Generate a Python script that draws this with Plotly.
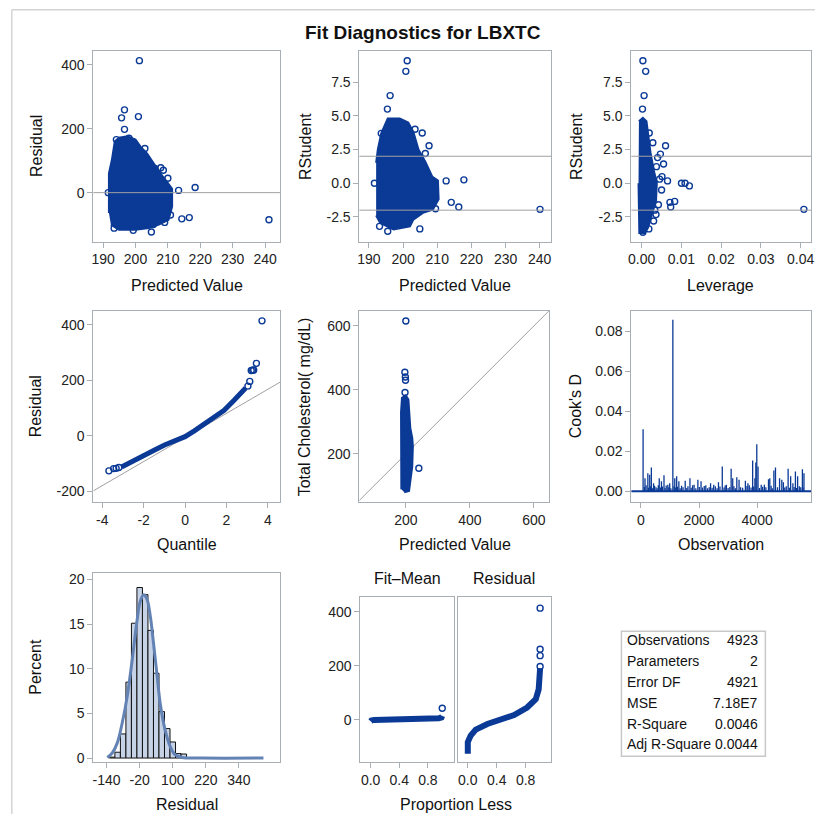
import plotly.graph_objects as go

# page is drawn inside an 8px body margin, so positions below are page pixels minus OFF
OFF = 8
W, H = 810, 810
BLUE = '#0B3A96'
GRAY = '#A8AFB4'
REF = '#A0A0A0'
FONT = 'Liberation Sans, Arial, sans-serif'

# --- Residual vs Predicted (dense core outline + single points)
p1_blob_x = [191.8, 191.8, 192.7, 193.6, 194.9, 197.5, 200.0, 201.6, 203.6, 205.6,
             207.7, 209.7, 211.3, 211.3, 210.2, 207.2, 204.1, 200.0, 194.9, 192.4]
p1_blob_y = [-64, 60, 102, 160, 172, 176, 166, 143, 122, 91,
             60, 34, 12, -44, -85, -100, -111, -116, -116, -100]
p1_pts_x = [201.2, 196.6, 195.7, 200.9, 196.6, 194.1, 202.9, 207.8, 210.0, 213.3, 218.4,
            214.3, 216.6, 241.2, 191.6, 204.9, 199.3, 193.4, 209.0, 203.0, 206.0, 210.8,
            198.0, 205.5, 208.6]
p1_pts_y = [413, 259, 234, 238, 198, 166, 138, 78, 45, 7, 16,
            -82, -78, -85, 0, -123, -118, -111, -93, 105, 76, -70,
            170, -100, 70]

# --- RStudent vs Predicted
p2_blob_x = [192.1, 192.6, 193.6, 195.5, 199.0, 201.5, 203.0, 204.5, 206.5, 208.5,
             210.2, 210.4, 208.7, 205.8, 203.0, 202.0, 197.2, 193.3, 192.1]
p2_blob_y = [1.5, 2.5, 3.7, 4.8, 4.8, 4.5, 3.8, 2.5, 1.6, 0.5,
             0.2, -1.2, -1.97, -2.2, -2.7, -3.2, -3.44, -2.95, -2.4]
p2_pts_x = [201.2, 200.8, 196.2, 195.4, 193.6, 191.6, 195.5, 193.1, 205.6, 207.6, 212.6,
            217.8, 214.1, 216.3, 240.1, 204.9, 203.5, 209.5, 206.5]
p2_pts_y = [9.09, 8.3, 6.5, 5.5, 3.7, 0.0, -3.56, -3.2, 3.73, 2.78, 0.17,
            0.25, -1.42, -1.77, -1.94, -3.39, 4.0, -1.9, 2.2]

# --- RStudent vs Leverage
p3_blob_x = [-0.0007, 0.0003, 0.0012, 0.0016, 0.0022, 0.0030, 0.0038, 0.0036,
             0.0025, 0.0016, 0.0008, -0.0006, -0.0008]
p3_blob_y = [4.6, 4.85, 4.6, 3.6, 2.3, 1.0, 0.0, -1.3, -2.4, -3.3, -3.7, -3.7, 0.0]
p3_pts_x = [0.0003, 0.0010, 0.0006, 0.0002, 0.0019, 0.0060, 0.0047, 0.0055, 0.0037, 0.0051,
            0.0065, 0.0100, 0.0109, 0.0120, 0.0071, 0.0083, 0.0073, 0.0408, 0.0036, 0.0018,
            0.0003, 0.0040, 0.0045, 0.0050, 0.0042, 0.0030, 0.0033, 0.0028]
p3_pts_y = [9.09, 8.3, 6.5, 5.5, 3.73, 2.78, 2.16, 1.43, 1.23, 0.49,
            0.17, 0.0, 0.0, -0.2, -1.42, -1.35, -1.77, -1.94, -2.33, -3.39,
            -3.64, 1.9, 0.3, -0.5, -1.6, -2.8, -2.0, 3.0]

# --- Q-Q plot of residuals
qq_x = [-3.07, -2.75, -2.43, -1.95, -1.47, -0.99, -0.51, 0.0, 0.45, 0.93,
        1.41, 1.89, 2.37, 2.69, 2.93]
qq_y = [-112, -99, -87, -69, -51, -33, -19, -3, 18, 41,
        64, 92, 128, 151, 172]
qq_tail_x = [-3.68, -3.45, -3.33, -3.2, 3.04, 3.13, 3.2, 3.27, 3.32, 3.45, 3.72]
qq_tail_y = [-126, -118, -117, -114, 179, 196, 235, 236, 237, 261, 414]
qq_ref_x = [-4.43, 4.59]
qq_ref_y = [-198, 193]

# --- Observed vs Predicted
p5_strip_x = [186, 185, 188, 200, 208, 210, 214, 220, 222, 220, 214, 210, 195]
p5_strip_y = [90, 330, 375, 383, 370, 330, 280, 250, 225, 160, 110, 84, 80]
p5_pts_x = [200.0, 197.0, 198.5, 199.0, 197.5, 240.6]
p5_pts_y = [615, 455, 440, 430, 392, 155]
diag = [50, 647]

# --- Cook's D
cook_obs = [76, 142, 240, 305, 360, 436, 632, 708, 795, 926, 991, 1100, 1166, 1231, 1307,
            1525, 1688, 1830, 1961, 2070, 2233, 2397, 2505, 2669, 2800, 2941, 3105, 3159,
            3300, 3377, 3595, 3682, 3845, 3922, 3954, 3987, 4030, 4139, 4248, 4390, 4434,
            4575, 4630, 4771, 4848, 4902, 5065, 5152, 5229, 5316, 5392, 5556, 5610,
            120, 180, 260, 330, 400, 470, 520, 560, 600, 680, 740, 830, 870, 960, 1030,
            1140, 1200, 1260, 1350, 1400, 1450, 1580, 1620, 1730, 1780, 1890, 2010, 2120,
            2180, 2290, 2350, 2450, 2560, 2620, 2720, 2860, 2900, 3000, 3060, 3200, 3250,
            3430, 3500, 3650, 3730, 3790, 3880, 4080, 4190, 4300, 4480, 4520, 4700, 4950,
            5000, 5110, 5270, 5350, 5450, 5500, 5580]
cook_d = [0.0311, 0.0066, 0.0091, 0.0083, 0.0119, 0.0041, 0.0066, 0.0050, 0.0080, 0.0033,
          0.0041, 0.0858, 0.0066, 0.0075, 0.0050, 0.0053, 0.0066, 0.0033, 0.0058, 0.0050,
          0.0030, 0.0041, 0.0033, 0.0045, 0.0124, 0.0033, 0.0113, 0.0066, 0.0070, 0.0058,
          0.0053, 0.0041, 0.0154, 0.0066, 0.0144, 0.0235, 0.0124, 0.0033, 0.0033, 0.0061,
          0.0066, 0.0104, 0.0119, 0.0066, 0.0058, 0.0046, 0.0113, 0.0075, 0.0041, 0.0099,
          0.0075, 0.0111, 0.0091,
          0.0022, 0.0030, 0.0018, 0.0025, 0.0015, 0.0028, 0.0020, 0.0016, 0.0031, 0.0019,
          0.0024, 0.0017, 0.0029, 0.0021, 0.0015, 0.0026, 0.0019, 0.0023, 0.0016, 0.0028,
          0.0020, 0.0017, 0.0025, 0.0018, 0.0030, 0.0016, 0.0022, 0.0019, 0.0027, 0.0015,
          0.0021, 0.0018, 0.0026, 0.0016, 0.0024, 0.0019, 0.0029, 0.0017, 0.0022, 0.0025,
          0.0016, 0.0020, 0.0018, 0.0027, 0.0031, 0.0019, 0.0024, 0.0017, 0.0023, 0.0020,
          0.0028, 0.0016, 0.0021, 0.0019, 0.0026, 0.0018, 0.0022, 0.0017, 0.0025, 0.0020,
          0.0019]

# --- Residual histogram
hist_mid = [-120, -100, -80, -60, -40, -20, 0, 20, 40, 60, 80, 100, 120, 140]
hist_pct = [0.1, 0.65, 2.7, 8.5, 15.1, 19.1, 18.3, 14.3, 9.5, 5.2, 3.3, 1.8, 0.5, 0.45]
curve_x = [-137.6, -119.6, -101.6, -83.6, -65.6, -47.6, -29.6, -17.6, -5.6, 6.4,
           18.4, 30.4, 42.5, 54.5, 72.5, 90.5, 108.5, 132.5, 204.5, 429]
curve_y = [0.07, 0.56, 1.67, 3.9, 6.85, 10.9, 15.4, 17.6, 18.3, 17.8,
           15.9, 12.8, 9.4, 6.1, 3.1, 1.3, 0.37, 0.07, 0.0, 0.0]

# --- Residual-Fit spread
fm_x = [0.0, 0.01, 0.05, 0.3, 0.69, 0.71, 0.95, 0.99, 1.0]
fm_y = [-6, -3, -1, 0, 1, 4, 5, 8, 14]
fm_pt_x = [1.0]
fm_pt_y = [42]
rs_x = [0.0, 0.0, 0.04, 0.11, 0.27, 0.46, 0.64, 0.82, 0.94, 0.98, 1.0, 1.0]
rs_y = [-126, -83, -59, -37, -16, -1, 17, 45, 76, 112, 161, 191]
rs_pt_x = [1.0, 1.0, 1.0, 1.0]
rs_pt_y = [197, 237, 261, 413]

stat_names = ['Observations', 'Parameters', 'Error DF', 'MSE', 'R-Square', 'Adj R-Square']
stat_vals = ['4923', '2', '4921', '7.18E7', '0.0046', '0.0044']


def dx(a, b):
    return [(a - OFF) / W, (b - OFF) / W]


def dy(top, bottom):
    return [1 - (bottom - OFF) / H, 1 - (top - OFF) / H]


def px(x):
    return (x - OFF) / W


def py(y):
    return 1 - (y - OFF) / H


def axis(dom, rng, tickvals, ticktext, anchor, show=True):
    return dict(domain=dom, range=rng, anchor=anchor, showline=True, mirror=True,
                linecolor=GRAY, linewidth=1, ticks='outside' if show else '',
                tickcolor=GRAY, ticklen=5, showgrid=False, zeroline=False,
                tickmode='array', tickvals=tickvals, ticktext=ticktext,
                showticklabels=show, tickfont=dict(size=14, color='#222'),
                fixedrange=True)


def blob(x, y, xa, ya):
    return go.Scatter(x=x, y=y, mode='lines', fill='toself', fillcolor=BLUE,
                      line=dict(color=BLUE, width=2), xaxis=xa, yaxis=ya,
                      hoverinfo='skip', showlegend=False)


def pts(x, y, xa, ya):
    return go.Scatter(x=x, y=y, mode='markers', xaxis=xa, yaxis=ya, showlegend=False,
                      marker=dict(symbol='circle-open', size=6, color=BLUE,
                                  line=dict(width=1.4, color=BLUE)))


def band(x, y, xa, ya, w):
    return go.Scatter(x=x, y=y, mode='lines', xaxis=xa, yaxis=ya, showlegend=False,
                      line=dict(color=BLUE, width=w), hoverinfo='skip')


spike_x, spike_y = [], []
for o, d in zip(cook_obs, cook_d):
    spike_x += [o, o, None]
    spike_y += [0, d, None]

traces = [
    blob(p1_blob_x, p1_blob_y, 'x', 'y'), pts(p1_pts_x, p1_pts_y, 'x', 'y'),
    blob(p2_blob_x, p2_blob_y, 'x2', 'y2'), pts(p2_pts_x, p2_pts_y, 'x2', 'y2'),
    blob(p3_blob_x, p3_blob_y, 'x3', 'y3'), pts(p3_pts_x, p3_pts_y, 'x3', 'y3'),
    go.Scatter(x=qq_ref_x, y=qq_ref_y, mode='lines', xaxis='x4', yaxis='y4',
               line=dict(color=REF, width=1), showlegend=False),
    band(qq_x, qq_y, 'x4', 'y4', 5), pts(qq_tail_x, qq_tail_y, 'x4', 'y4'),
    go.Scatter(x=diag, y=diag, mode='lines', xaxis='x5', yaxis='y5',
               line=dict(color=REF, width=1), showlegend=False),
    blob(p5_strip_x, p5_strip_y, 'x5', 'y5'), pts(p5_pts_x, p5_pts_y, 'x5', 'y5'),
    go.Scatter(x=spike_x, y=spike_y, mode='lines', xaxis='x6', yaxis='y6',
               line=dict(color=BLUE, width=1.3), showlegend=False),
    go.Bar(x=hist_mid, y=hist_pct, width=20, xaxis='x7', yaxis='y7', showlegend=False,
           marker=dict(color='#C6D2E6', line=dict(color='#111', width=1))),
    go.Scatter(x=curve_x, y=curve_y, mode='lines', line_shape='spline', xaxis='x7',
               yaxis='y7', line=dict(color='#6483B5', width=3), showlegend=False),
    band(fm_x, fm_y, 'x8', 'y8', 6), pts(fm_pt_x, fm_pt_y, 'x8', 'y8'),
    band(rs_x, rs_y, 'x9', 'y9', 6), pts(rs_pt_x, rs_pt_y, 'x9', 'y9'),
]

fig = go.Figure(data=traces)

pv = [190, 200, 210, 220, 230, 240]
pv_t = [str(v) for v in pv]
rst = [-2.5, 0, 2.5, 5, 7.5]
rst_t = ['-2.5', '0.0', '2.5', '5.0', '7.5']
prop = [0, 0.4, 0.8]
prop_t = ['0.0', '0.4', '0.8']

fig.update_layout(
    width=W, height=H, margin=dict(l=0, r=0, t=0, b=0),
    paper_bgcolor='white', plot_bgcolor='white',
    font=dict(family=FONT, color='#222'), showlegend=False,
    xaxis=axis(dx(91, 279), [187.0, 244.6], pv, pv_t, 'y'),
    yaxis=axis(dy(50, 242), [-153, 444], [0, 200, 400], ['0', '200', '400'], 'x'),
    xaxis2=axis(dx(359, 552), [187.2, 243.3], pv, pv_t, 'y2'),
    yaxis2=axis(dy(50, 242), [-4.33, 9.83], rst, rst_t, 'x2'),
    xaxis3=axis(dx(633, 814), [-0.0026, 0.0426], [0, 0.01, 0.02, 0.03, 0.04],
                ['0.00', '0.01', '0.02', '0.03', '0.04'], 'y3'),
    yaxis3=axis(dy(50, 242), [-4.33, 9.83], rst, rst_t, 'x3'),
    xaxis4=axis(dx(91, 279), [-4.43, 4.59], [-4, -2, 0, 2, 4], ['-4', '-2', '0', '2', '4'], 'y4'),
    yaxis4=axis(dy(312, 504), [-238, 449], [-200, 0, 200, 400], ['-200', '0', '200', '400'], 'x4'),
    xaxis5=axis(dx(359, 550), [55, 647], [200, 400, 600], ['200', '400', '600'], 'y5'),
    yaxis5=axis(dy(312, 504), [50, 646], [200, 400, 600], ['200', '400', '600'], 'x5'),
    xaxis6=axis(dx(633, 814), [-327, 5853], [0, 2000, 4000], ['0', '2000', '4000'], 'y6'),
    yaxis6=axis(dy(312, 504), [-0.0053, 0.0901], [0, 0.02, 0.04, 0.06, 0.08],
                ['0.00', '0.02', '0.04', '0.06', '0.08'], 'x6'),
    xaxis7=axis(dx(91, 279), [-188, 489], [-140, -20, 100, 220, 340],
                ['-140', '-20', '100', '220', '340'], 'y7'),
    yaxis7=axis(dy(575, 766), [-0.48, 20.78], [0, 5, 10, 15, 20], ['0', '5', '10', '15', '20'], 'x7'),
    xaxis8=axis(dx(360, 454), [-0.143, 1.16], prop, prop_t, 'y8'),
    yaxis8=axis(dy(600, 766), [-158, 453], [0, 200, 400], ['0', '200', '400'], 'x8'),
    xaxis9=axis(dx(458, 552), [-0.14, 1.15], prop, prop_t, 'y9'),
    yaxis9=axis(dy(600, 766), [-158, 453], [0, 200, 400], ['0', '200', '400'], 'x9', show=False),
)

shapes = [
    dict(type='line', xref='x domain', yref='y', x0=0, x1=1, y0=0, y1=0,
         line=dict(color=REF, width=1)),
    dict(type='line', xref='x2 domain', yref='y2', x0=0, x1=1, y0=2, y1=2,
         line=dict(color=REF, width=1)),
    dict(type='line', xref='x2 domain', yref='y2', x0=0, x1=1, y0=-2, y1=-2,
         line=dict(color=REF, width=1)),
    dict(type='line', xref='x3 domain', yref='y3', x0=0, x1=1, y0=2, y1=2,
         line=dict(color=REF, width=1)),
    dict(type='line', xref='x3 domain', yref='y3', x0=0, x1=1, y0=-2, y1=-2,
         line=dict(color=REF, width=1)),
    dict(type='line', xref='x6 domain', yref='y6', x0=0, x1=1, y0=0, y1=0,
         line=dict(color=BLUE, width=2)),
    dict(type='rect', xref='paper', yref='paper', x0=px(623), x1=px(768),
         y0=py(760), y1=py(634), line=dict(color='#C8C8C8', width=1.5)),
    dict(type='line', xref='paper', yref='paper', x0=0.001, x1=1, y0=0.999, y1=0.999,
         line=dict(color='#D4D4D4', width=1.5)),
    dict(type='line', xref='paper', yref='paper', x0=0.001, x1=0.001, y0=0, y1=0.999,
         line=dict(color='#D4D4D4', width=1.5)),
]

annots = []


def label(text, x, y, angle=0, size=16, anchor='center', bold=False):
    annots.append(dict(text='<b>%s</b>' % text if bold else text, xref='paper', yref='paper',
                       x=px(x), y=py(y), showarrow=False, textangle=angle,
                       xanchor=anchor, yanchor='middle',
                       font=dict(family=FONT, size=size, color='#111')))


label('Fit Diagnostics for LBXTC', 423, 32, size=19, bold=True)
label('Predicted Value', 185, 286)
label('Predicted Value', 455, 286)
label('Leverage', 723, 286)
label('Quantile', 185, 547)
label('Predicted Value', 455, 547)
label('Observation', 723, 547)
label('Residual', 185, 808)
label('Proportion Less', 456, 808)
label('Residual', 33, 146, -90)
label('RStudent', 304, 146, -90)
label('RStudent', 577, 146, -90)
label('Residual', 33, 408, -90)
label('Total Cholesterol( mg/dL)', 304, 408, -90)
label("Cook's D", 577, 408, -90)
label('Percent', 33, 670, -90)
label('Fit\u2013Mean', 407, 581)
label('Residual', 505, 581)
for i, (n, v) in enumerate(zip(stat_names, stat_vals)):
    label(n, 627, 643 + i * 21, size=14, anchor='left')
    label(v, 763, 643 + i * 21, size=14, anchor='right')

fig.update_layout(shapes=shapes, annotations=annots)
fig.write_html("out.html")
